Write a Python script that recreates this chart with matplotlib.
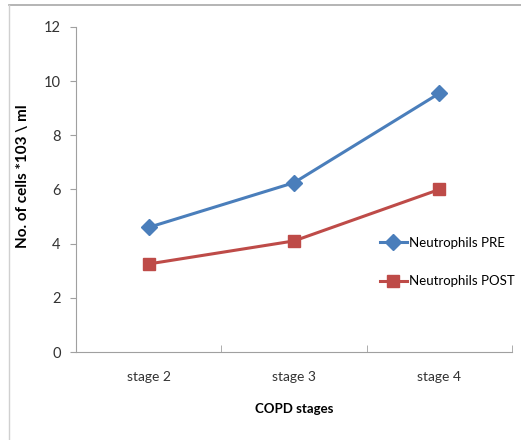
import matplotlib.pyplot as plt
from matplotlib.lines import Line2D
import numpy as np

stages = ['stage 2', 'stage 3', 'stage 4']
neut_pre = [4.6, 6.25, 9.55]
neut_post = [3.25, 4.1, 6.0]

plt.rcParams['font.family'] = ['Lato', 'DejaVu Sans']

fig = plt.figure(figsize=(5.21, 4.40), dpi=100)
ax = fig.add_axes([0.146, 0.2, 0.837, 0.739])

x = np.arange(len(stages))
ax.plot(x, neut_pre, color='#4a7ebb', lw=2.2, marker='D', ms=8.5, label='Neutrophils PRE')
ax.plot(x, neut_post, color='#be4b48', lw=2.2, marker='s', ms=9, label='Neutrophils POST')

ax.set_xlim(-0.5, 2.5)
ax.set_ylim(0, 12)
ax.set_yticks(range(0, 13, 2))
ax.set_xticks(x)
ax.set_xticklabels(stages)
ax.set_xticks([-0.5, 0.5, 1.5, 2.5], minor=True)
ax.tick_params(axis='x', which='major', length=0, pad=14, labelsize=10, colors='#333333')
ax.tick_params(axis='x', which='minor', length=5, color='#a0a0a0', direction='in')
ax.tick_params(axis='y', length=4, color='#a0a0a0', pad=7, labelsize=10.5, labelcolor='#333333')
for s in ['top', 'right']:
    ax.spines[s].set_visible(False)
for s in ['left', 'bottom']:
    ax.spines[s].set_color('#a0a0a0')

ax.set_xlabel('COPD stages', fontweight='bold', fontsize=9.5, labelpad=14)
ax.set_ylabel('No. of cells *103 \\ ml', fontweight='bold', fontsize=11, labelpad=8)
ax.yaxis.set_label_coords(-0.105, 0.54)

ax.legend(loc='upper left', bbox_to_anchor=(0.67, 0.39), frameon=False,
          fontsize=9.5, labelspacing=2.0, handlelength=2.0, handletextpad=0.2)

# outer frame of the figure panel
fig.add_artist(Line2D([9/521, 1], [1 - 5/440, 1 - 5/440], color='#a8a8a8', lw=1.2))
fig.add_artist(Line2D([9/521, 9/521], [0, 1 - 5/440], color='#d0d0d0', lw=1.0))

fig.savefig('out.png', dpi=100)
